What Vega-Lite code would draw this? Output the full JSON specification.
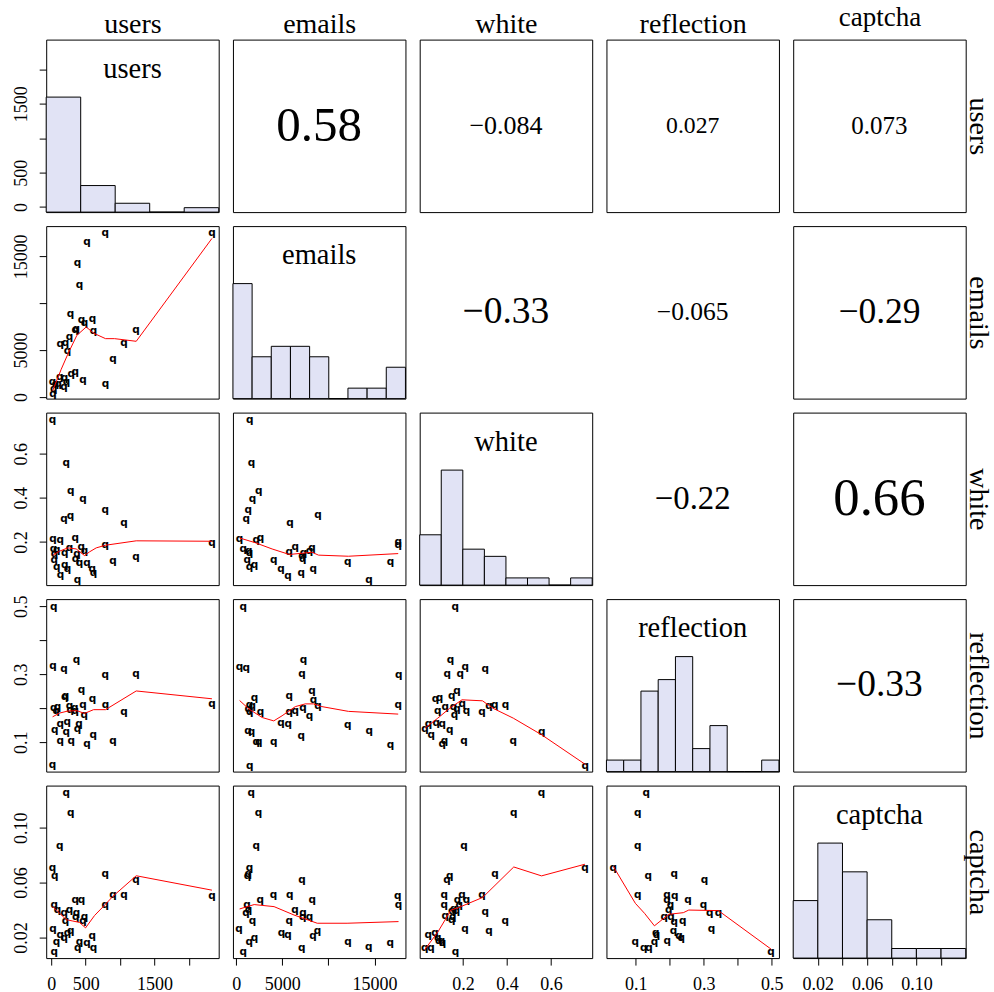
{
"$schema":"https://vega.github.io/schema/vega-lite/v6.json",
"background":"white",
"padding":{"left":11.2,"top":2.6,"right":15,"bottom":5},
"config":{
 "view":{"stroke":"black","strokeWidth":1},
 "axis":{"domain":false,"grid":false,"tickColor":"black","tickSize":7,"tickWidth":1,"labelFont":"Liberation Serif","labelFontSize":18,"labelColor":"black","labelOverlap":false,"labelFlush":false,"labelBound":false,"titleFont":"Liberation Serif","titleFontWeight":"normal","titleFontSize":28,"titleColor":"black","minExtent":0,"maxExtent":300},
 "axisBottom":{"labelBaseline":"alphabetic","labelPadding":24,"labelAngle":0,"labelAlign":"center"},
 "axisLeft":{"labelAngle":270,"labelAlign":"center","labelBaseline":"alphabetic","labelPadding":13},
 "axisTop":{"titleBaseline":"alphabetic","titlePadding":7,"ticks":false,"labels":false},
 "axisRight":{"titleAngle":90,"titleBaseline":"alphabetic","titlePadding":4,"ticks":false,"labels":false}
},
"datasets":{
 "h1":[{"lo":0,"hi":500,"count":26},{"lo":500,"hi":1000,"count":6},{"lo":1000,"hi":1500,"count":2},{"lo":1500,"hi":2000,"count":0},{"lo":2000,"hi":2500,"count":1}],
 "h2":[{"lo":0,"hi":2000,"count":11},{"lo":2000,"hi":4000,"count":4},{"lo":4000,"hi":6000,"count":5},{"lo":6000,"hi":8000,"count":5},{"lo":8000,"hi":10000,"count":4},{"lo":10000,"hi":12000,"count":0},{"lo":12000,"hi":14000,"count":1},{"lo":14000,"hi":16000,"count":1},{"lo":16000,"hi":18000,"count":3}],
 "h3":[{"lo":0,"hi":0.1,"count":7},{"lo":0.1,"hi":0.2,"count":16},{"lo":0.2,"hi":0.3,"count":5},{"lo":0.3,"hi":0.4,"count":4},{"lo":0.4,"hi":0.5,"count":1},{"lo":0.5,"hi":0.6,"count":1},{"lo":0.6,"hi":0.7,"count":0},{"lo":0.7,"hi":0.8,"count":1}],
 "h4":[{"lo":0,"hi":0.05,"count":1},{"lo":0.05,"hi":0.1,"count":1},{"lo":0.1,"hi":0.15,"count":7},{"lo":0.15,"hi":0.2,"count":8},{"lo":0.2,"hi":0.25,"count":10},{"lo":0.25,"hi":0.3,"count":2},{"lo":0.3,"hi":0.35,"count":4},{"lo":0.35,"hi":0.4,"count":0},{"lo":0.4,"hi":0.45,"count":0},{"lo":0.45,"hi":0.5,"count":1}],
 "h5":[{"lo":0,"hi":0.02,"count":6},{"lo":0.02,"hi":0.04,"count":12},{"lo":0.04,"hi":0.06,"count":9},{"lo":0.06,"hi":0.08,"count":4},{"lo":0.08,"hi":0.1,"count":1},{"lo":0.1,"hi":0.12,"count":1},{"lo":0.12,"hi":0.14,"count":1}],
 "s21":[{"users":784,"emails":17447},{"users":2335,"emails":17447},{"users":518,"emails":16559},{"users":382,"emails":14320},{"users":411,"emails":11975},{"users":281,"emails":8812},{"users":600,"emails":8315},{"users":440,"emails":8173},{"users":484,"emails":7924},{"users":363,"emails":7213},{"users":348,"emails":7142},{"users":615,"emails":7036},{"users":1230,"emails":7142},{"users":266,"emails":6361},{"users":208,"emails":5721},{"users":130,"emails":5650},{"users":1056,"emails":5792},{"users":237,"emails":4904},{"users":896,"emails":4086},{"users":348,"emails":2665},{"users":290,"emails":2487},{"users":125,"emails":2167},{"users":193,"emails":1990},{"users":460,"emails":1848},{"users":20,"emails":1564},{"users":222,"emails":1634},{"users":63,"emails":1421},{"users":101,"emails":1350},{"users":789,"emails":1386},{"users":184,"emails":1101},{"users":38,"emails":817},{"users":24,"emails":355}],
 "l21":[{"users":20,"emails":640},{"users":145,"emails":2949},{"users":251,"emails":4726},{"users":373,"emails":6574},{"users":508,"emails":7462},{"users":620,"emails":6787},{"users":789,"emails":6218},{"users":920,"emails":6218},{"users":1235,"emails":5934},{"users":2335,"emails":16914}],
 "s31":[{"users":20,"white":0.753},{"users":218,"white":0.558},{"users":285,"white":0.43},{"users":460,"white":0.394},{"users":784,"white":0.346},{"users":184,"white":0.305},{"users":281,"white":0.318},{"users":1056,"white":0.287},{"users":24,"white":0.215},{"users":130,"white":0.208},{"users":348,"white":0.218},{"users":784,"white":0.188},{"users":1230,"white":0.132},{"users":2335,"white":0.196},{"users":33,"white":0.17},{"users":82,"white":0.162},{"users":48,"white":0.143},{"users":198,"white":0.15},{"users":266,"white":0.173},{"users":436,"white":0.176},{"users":484,"white":0.161},{"users":373,"white":0.146},{"users":353,"white":0.124},{"users":411,"white":0.106},{"users":518,"white":0.106},{"users":43,"white":0.117},{"users":82,"white":0.088},{"users":198,"white":0.094},{"users":237,"white":0.079},{"users":595,"white":0.079},{"users":615,"white":0.058},{"users":896,"white":0.115},{"users":135,"white":0.049},{"users":382,"white":0.027}],
 "l31":[{"users":24,"white":0.14},{"users":121,"white":0.158},{"users":242,"white":0.173},{"users":363,"white":0.168},{"users":484,"white":0.138},{"users":557,"white":0.155},{"users":654,"white":0.173},{"users":789,"white":0.185},{"users":1235,"white":0.205},{"users":2335,"white":0.203}],
 "s41":[{"users":38,"reflection":0.498},{"users":24,"reflection":0.323},{"users":184,"reflection":0.317},{"users":368,"reflection":0.341},{"users":784,"reflection":0.298},{"users":1230,"reflection":0.3},{"users":440,"reflection":0.253},{"users":600,"reflection":0.228},{"users":198,"reflection":0.233},{"users":208,"reflection":0.236},{"users":92,"reflection":0.205},{"users":38,"reflection":0.202},{"users":72,"reflection":0.193},{"users":266,"reflection":0.208},{"users":343,"reflection":0.202},{"users":276,"reflection":0.194},{"users":348,"reflection":0.193},{"users":460,"reflection":0.21},{"users":789,"reflection":0.21},{"users":479,"reflection":0.18},{"users":1056,"reflection":0.19},{"users":53,"reflection":0.136},{"users":130,"reflection":0.154},{"users":232,"reflection":0.159},{"users":218,"reflection":0.13},{"users":402,"reflection":0.153},{"users":382,"reflection":0.139},{"users":610,"reflection":0.122},{"users":130,"reflection":0.105},{"users":290,"reflection":0.105},{"users":518,"reflection":0.096},{"users":896,"reflection":0.105},{"users":20,"reflection":0.032},{"users":2335,"reflection":0.213}],
 "l41":[{"users":20,"reflection":0.175},{"users":121,"reflection":0.186},{"users":242,"reflection":0.192},{"users":373,"reflection":0.193},{"users":484,"reflection":0.185},{"users":615,"reflection":0.196},{"users":789,"reflection":0.196},{"users":1235,"reflection":0.251},{"users":2335,"reflection":0.228}],
 "s51":[{"users":218,"captcha":0.125},{"users":285,"captcha":0.111},{"users":125,"captcha":0.087},{"users":20,"captcha":0.071},{"users":53,"captcha":0.065},{"users":784,"captcha":0.066},{"users":43,"captcha":0.044},{"users":896,"captcha":0.051},{"users":1056,"captcha":0.051},{"users":784,"captcha":0.044},{"users":348,"captcha":0.047},{"users":440,"captcha":0.047},{"users":1230,"captcha":0.062},{"users":2335,"captcha":0.05},{"users":92,"captcha":0.04},{"users":266,"captcha":0.04},{"users":189,"captcha":0.038},{"users":368,"captcha":0.038},{"users":358,"captcha":0.035},{"users":484,"captcha":0.035},{"users":208,"captcha":0.032},{"users":460,"captcha":0.032},{"users":24,"captcha":0.026},{"users":130,"captcha":0.022},{"users":189,"captcha":0.02},{"users":285,"captcha":0.025},{"users":237,"captcha":0.023},{"users":77,"captcha":0.017},{"users":411,"captcha":0.017},{"users":518,"captcha":0.016},{"users":595,"captcha":0.021},{"users":387,"captcha":0.0125},{"users":615,"captcha":0.012},{"users":43,"captcha":0.0094}],
 "l51":[{"users":20,"captcha":0.0425},{"users":96,"captcha":0.039},{"users":218,"captcha":0.033},{"users":314,"captcha":0.032},{"users":411,"captcha":0.031},{"users":499,"captcha":0.027},{"users":629,"captcha":0.036},{"users":784,"captcha":0.044},{"users":896,"captcha":0.05},{"users":1235,"captcha":0.065},{"users":2335,"captcha":0.0545}],
 "s32":[{"emails":1480,"white":0.753},{"emails":1660,"white":0.556},{"emails":2452,"white":0.43},{"emails":1768,"white":0.393},{"emails":1300,"white":0.344},{"emails":1084,"white":0.302},{"emails":8860,"white":0.32},{"emails":5836,"white":0.287},{"emails":364,"white":0.214},{"emails":2632,"white":0.218},{"emails":2164,"white":0.208},{"emails":760,"white":0.168},{"emails":1372,"white":0.158},{"emails":1444,"white":0.15},{"emails":5764,"white":0.153},{"emails":6412,"white":0.176},{"emails":7312,"white":0.15},{"emails":7132,"white":0.135},{"emails":7204,"white":0.123},{"emails":7960,"white":0.158},{"emails":8212,"white":0.173},{"emails":1192,"white":0.12},{"emails":4072,"white":0.117},{"emails":4864,"white":0.079},{"emails":12100,"white":0.108},{"emails":16744,"white":0.108},{"emails":1444,"white":0.087},{"emails":1984,"white":0.093},{"emails":5620,"white":0.044},{"emails":7060,"white":0.059},{"emails":8356,"white":0.077},{"emails":14404,"white":0.029},{"emails":17572,"white":0.199},{"emails":17572,"white":0.188}],
 "l32":[{"emails":364,"white":0.218},{"emails":2092,"white":0.196},{"emails":3892,"white":0.168},{"emails":5764,"white":0.143},{"emails":8212,"white":0.153},{"emails":8932,"white":0.14},{"emails":12172,"white":0.135},{"emails":17572,"white":0.147}],
 "s42":[{"emails":760,"reflection":0.498},{"emails":364,"reflection":0.322},{"emails":1084,"reflection":0.318},{"emails":7312,"reflection":0.342},{"emails":7132,"reflection":0.301},{"emails":17644,"reflection":0.298},{"emails":8212,"reflection":0.251},{"emails":5764,"reflection":0.235},{"emails":1984,"reflection":0.231},{"emails":1444,"reflection":0.21},{"emails":1732,"reflection":0.208},{"emails":1300,"reflection":0.198},{"emails":1480,"reflection":0.189},{"emails":2632,"reflection":0.19},{"emails":8392,"reflection":0.225},{"emails":8860,"reflection":0.207},{"emails":7240,"reflection":0.2},{"emails":5764,"reflection":0.19},{"emails":6412,"reflection":0.193},{"emails":7960,"reflection":0.178},{"emails":17572,"reflection":0.211},{"emails":1264,"reflection":0.134},{"emails":1660,"reflection":0.129},{"emails":2164,"reflection":0.101},{"emails":2452,"reflection":0.101},{"emails":4072,"reflection":0.101},{"emails":4864,"reflection":0.156},{"emails":5656,"reflection":0.153},{"emails":7060,"reflection":0.119},{"emails":12100,"reflection":0.151},{"emails":14440,"reflection":0.134},{"emails":16744,"reflection":0.092},{"emails":1480,"reflection":0.03}],
 "l42":[{"emails":364,"reflection":0.223},{"emails":1372,"reflection":0.198},{"emails":2812,"reflection":0.173},{"emails":4072,"reflection":0.163},{"emails":4972,"reflection":0.178},{"emails":6412,"reflection":0.205},{"emails":7492,"reflection":0.213},{"emails":8392,"reflection":0.213},{"emails":9292,"reflection":0.205},{"emails":12172,"reflection":0.191},{"emails":17572,"reflection":0.183}],
 "s52":[{"emails":1624,"captcha":0.125},{"emails":2416,"captcha":0.111},{"emails":2164,"captcha":0.087},{"emails":1444,"captcha":0.071},{"emails":1300,"captcha":0.066},{"emails":1228,"captcha":0.065},{"emails":7132,"captcha":0.062},{"emails":1156,"captcha":0.044},{"emails":2596,"captcha":0.047},{"emails":4036,"captcha":0.051},{"emails":5800,"captcha":0.051},{"emails":8248,"captcha":0.047},{"emails":6376,"captcha":0.04},{"emails":1048,"captcha":0.038},{"emails":1336,"captcha":0.04},{"emails":1768,"captcha":0.032},{"emails":5764,"captcha":0.032},{"emails":7240,"captcha":0.0376},{"emails":7204,"captcha":0.035},{"emails":7960,"captcha":0.035},{"emails":8824,"captcha":0.025},{"emails":4900,"captcha":0.023},{"emails":5620,"captcha":0.0217},{"emails":8320,"captcha":0.021},{"emails":292,"captcha":0.026},{"emails":1408,"captcha":0.017},{"emails":1984,"captcha":0.0195},{"emails":12136,"captcha":0.017},{"emails":14368,"captcha":0.0128},{"emails":16708,"captcha":0.016},{"emails":17536,"captcha":0.05},{"emails":17608,"captcha":0.044},{"emails":7096,"captcha":0.012},{"emails":760,"captcha":0.0094}],
 "l52":[{"emails":364,"captcha":0.0408},{"emails":1948,"captcha":0.044},{"emails":4108,"captcha":0.0425},{"emails":6268,"captcha":0.0364},{"emails":8788,"captcha":0.0304},{"emails":12028,"captcha":0.0304},{"emails":17608,"captcha":0.0316}],
 "s43":[{"white":0.165,"reflection":0.497},{"white":0.144,"reflection":0.341},{"white":0.211,"reflection":0.322},{"white":0.302,"reflection":0.317},{"white":0.129,"reflection":0.302},{"white":0.188,"reflection":0.3},{"white":0.173,"reflection":0.252},{"white":0.15,"reflection":0.236},{"white":0.076,"reflection":0.228},{"white":0.094,"reflection":0.231},{"white":0.197,"reflection":0.213},{"white":0.12,"reflection":0.205},{"white":0.158,"reflection":0.205},{"white":0.173,"reflection":0.197},{"white":0.086,"reflection":0.192},{"white":0.216,"reflection":0.192},{"white":0.287,"reflection":0.19},{"white":0.319,"reflection":0.207},{"white":0.345,"reflection":0.21},{"white":0.394,"reflection":0.21},{"white":0.162,"reflection":0.181},{"white":0.044,"reflection":0.154},{"white":0.079,"reflection":0.158},{"white":0.106,"reflection":0.153},{"white":0.0285,"reflection":0.14},{"white":0.14,"reflection":0.137},{"white":0.056,"reflection":0.122},{"white":0.205,"reflection":0.105},{"white":0.117,"reflection":0.103},{"white":0.106,"reflection":0.095},{"white":0.429,"reflection":0.105},{"white":0.558,"reflection":0.13},{"white":0.756,"reflection":0.03}],
 "l43":[{"white":0.0285,"reflection":0.142},{"white":0.086,"reflection":0.171},{"white":0.14,"reflection":0.2},{"white":0.196,"reflection":0.225},{"white":0.289,"reflection":0.222},{"white":0.337,"reflection":0.2},{"white":0.429,"reflection":0.171},{"white":0.558,"reflection":0.122},{"white":0.756,"reflection":0.035}],
 "s53":[{"white":0.557,"captcha":0.125},{"white":0.431,"captcha":0.111},{"white":0.205,"captcha":0.087},{"white":0.754,"captcha":0.071},{"white":0.346,"captcha":0.066},{"white":0.14,"captcha":0.065},{"white":0.128,"captcha":0.062},{"white":0.287,"captcha":0.051},{"white":0.115,"captcha":0.051},{"white":0.196,"captcha":0.051},{"white":0.115,"captcha":0.044},{"white":0.176,"captcha":0.047},{"white":0.184,"captcha":0.044},{"white":0.217,"captcha":0.047},{"white":0.159,"captcha":0.0405},{"white":0.171,"captcha":0.039},{"white":0.149,"captcha":0.0393},{"white":0.302,"captcha":0.0386},{"white":0.12,"captcha":0.0357},{"white":0.154,"captcha":0.035},{"white":0.149,"captcha":0.033},{"white":0.392,"captcha":0.032},{"white":0.319,"captcha":0.0248},{"white":0.21,"captcha":0.026},{"white":0.043,"captcha":0.022},{"white":0.074,"captcha":0.0235},{"white":0.086,"captcha":0.02},{"white":0.103,"captcha":0.0171},{"white":0.091,"captcha":0.0171},{"white":0.108,"captcha":0.016},{"white":0.0265,"captcha":0.0123},{"white":0.055,"captcha":0.012},{"white":0.166,"captcha":0.0094}],
 "l53":[{"white":0.0265,"captcha":0.0111},{"white":0.086,"captcha":0.0239},{"white":0.146,"captcha":0.04},{"white":0.179,"captcha":0.0417},{"white":0.29,"captcha":0.0492},{"white":0.431,"captcha":0.0714},{"white":0.557,"captcha":0.0649},{"white":0.754,"captcha":0.0734}],
 "s54":[{"reflection":0.131,"captcha":0.125},{"reflection":0.106,"captcha":0.111},{"reflection":0.106,"captcha":0.087},{"reflection":0.034,"captcha":0.071},{"reflection":0.137,"captcha":0.065},{"reflection":0.213,"captcha":0.066},{"reflection":0.302,"captcha":0.062},{"reflection":0.106,"captcha":0.051},{"reflection":0.192,"captcha":0.051},{"reflection":0.215,"captcha":0.05},{"reflection":0.192,"captcha":0.047},{"reflection":0.254,"captcha":0.047},{"reflection":0.299,"captcha":0.044},{"reflection":0.202,"captcha":0.044},{"reflection":0.197,"captcha":0.04},{"reflection":0.318,"captcha":0.038},{"reflection":0.343,"captcha":0.0376},{"reflection":0.184,"captcha":0.035},{"reflection":0.204,"captcha":0.035},{"reflection":0.213,"captcha":0.0316},{"reflection":0.238,"captcha":0.032},{"reflection":0.159,"captcha":0.023},{"reflection":0.161,"captcha":0.0217},{"reflection":0.211,"captcha":0.0248},{"reflection":0.323,"captcha":0.026},{"reflection":0.227,"captcha":0.021},{"reflection":0.234,"captcha":0.0195},{"reflection":0.099,"captcha":0.0166},{"reflection":0.193,"captcha":0.0171},{"reflection":0.155,"captcha":0.017},{"reflection":0.124,"captcha":0.012},{"reflection":0.139,"captcha":0.0123},{"reflection":0.498,"captcha":0.0094}],
 "l54":[{"reflection":0.034,"captcha":0.0719},{"reflection":0.099,"captcha":0.0449},{"reflection":0.126,"captcha":0.0376},{"reflection":0.155,"captcha":0.0285},{"reflection":0.197,"captcha":0.0369},{"reflection":0.24,"captcha":0.0381},{"reflection":0.256,"captcha":0.04},{"reflection":0.343,"captcha":0.0396},{"reflection":0.498,"captcha":0.0115}]
},
"columns":5,
"spacing":{"row":13.5,"column":13.75},
"bounds":"flush",
"concat":[
 {"width":172.5,"height":172.5,"resolve":{"scale":{"y":"independent"}},"layer":[
  {"data":{"name":"h1"},"mark":{"type":"rect","fill":"#e1e3f5","stroke":"black","strokeWidth":1},"encoding":{"x":{"field":"lo","type":"quantitative","scale":{"domain":[0,2500],"nice":false,"zero":false},"axis":{"orient":"top","title":"users","ticks":false,"labels":false}},"x2":{"field":"hi"},"y":{"field":"count","type":"quantitative","scale":{"domain":[0,39],"nice":false},"axis":null},"y2":{"datum":0}}},
  {"data":{"name":"h1"},"mark":{"type":"point","opacity":0},"encoding":{"y":{"field":"lo","type":"quantitative","scale":{"domain":[-73,2433],"nice":false,"zero":false},"axis":{"title":null,"values":[0,500,1000,1500,2000],"format":"d","labelExpr":"datum.label=='1000'||datum.label=='2000'?'':datum.label"}}}},
  {"data":{"values":[{"name":"users"}]},"mark":{"type":"text","font":"Liberation Serif","fontSize":28.5,"baseline":"alphabetic","dy":-48,"color":"black"},"encoding":{"text":{"field":"name"}}}
 ]},
 {"width":172.5,"height":172.5,"data":{"values":[{"vx":"emails","vy":"users","r":"0.58"}]},"mark":{"type":"text","font":"Liberation Serif","fontSize":49,"baseline":"middle","color":"black"},"encoding":{"text":{"field":"r"},"x":{"field":"vx","type":"nominal","axis":{"orient":"top","title":"emails","ticks":false,"labels":false}}}},
 {"width":172.5,"height":172.5,"data":{"values":[{"vx":"white","vy":"users","r":"−0.084"}]},"mark":{"type":"text","font":"Liberation Serif","fontSize":26,"baseline":"middle","color":"black"},"encoding":{"text":{"field":"r"},"x":{"field":"vx","type":"nominal","axis":{"orient":"top","title":"white","ticks":false,"labels":false}}}},
 {"width":172.5,"height":172.5,"data":{"values":[{"vx":"reflection","vy":"users","r":"0.027"}]},"mark":{"type":"text","font":"Liberation Serif","fontSize":23.7,"baseline":"middle","color":"black"},"encoding":{"text":{"field":"r"},"x":{"field":"vx","type":"nominal","axis":{"orient":"top","title":"reflection","ticks":false,"labels":false}}}},
 {"width":172.5,"height":172.5,"data":{"values":[{"vx":"captcha","vy":"users","r":"0.073"}]},"mark":{"type":"text","font":"Liberation Serif","fontSize":25,"baseline":"middle","color":"black"},"encoding":{"text":{"field":"r"},"x":{"field":"vx","type":"nominal","axis":{"orient":"top","title":"captcha","ticks":false,"labels":false,"titlePadding":14,"titleFontSize":27}},"y":{"field":"vy","type":"nominal","axis":{"orient":"right","title":"users","ticks":false,"labels":false}}}},

 {"width":172.5,"height":172.5,"layer":[
  {"data":{"name":"s21"},"mark":{"type":"text","text":"q","font":"DejaVu Sans","fontSize":10.5,"fontWeight":"bold","baseline":"middle","color":"black"},"encoding":{"x":{"field":"users","type":"quantitative","scale":{"domain":[-73,2433],"nice":false,"zero":false},"axis":null},"y":{"field":"emails","type":"quantitative","scale":{"domain":[-181,18230],"nice":false,"zero":false},"axis":{"title":null,"values":[0,5000,10000,15000],"format":"d","labelExpr":"datum.label=='10000'?'':datum.label"}}}},
  {"data":{"name":"l21"},"mark":{"type":"line","color":"red","strokeWidth":1},"encoding":{"x":{"field":"users","type":"quantitative"},"y":{"field":"emails","type":"quantitative"}}}
 ]},
 {"width":172.5,"height":172.5,"layer":[
  {"data":{"name":"h2"},"mark":{"type":"rect","fill":"#e1e3f5","stroke":"black","strokeWidth":1},"encoding":{"x":{"field":"lo","type":"quantitative","scale":{"domain":[0,18000],"nice":false,"zero":false},"axis":null},"x2":{"field":"hi"},"y":{"field":"count","type":"quantitative","scale":{"domain":[0,16.5],"nice":false},"axis":null},"y2":{"datum":0}}},
  {"data":{"values":[{"name":"emails"}]},"mark":{"type":"text","font":"Liberation Serif","fontSize":28.5,"baseline":"alphabetic","dy":-48,"color":"black"},"encoding":{"text":{"field":"name"}}}
 ]},
 {"width":172.5,"height":172.5,"data":{"values":[{"vx":"white","vy":"emails","r":"−0.33"}]},"mark":{"type":"text","font":"Liberation Serif","fontSize":37.5,"baseline":"middle","color":"black"},"encoding":{"text":{"field":"r"}}},
 {"width":172.5,"height":172.5,"data":{"values":[{"vx":"reflection","vy":"emails","r":"−0.065"}]},"mark":{"type":"text","font":"Liberation Serif","fontSize":25.5,"baseline":"middle","color":"black"},"encoding":{"text":{"field":"r"}}},
 {"width":172.5,"height":172.5,"data":{"values":[{"vx":"captcha","vy":"emails","r":"−0.29"}]},"mark":{"type":"text","font":"Liberation Serif","fontSize":35.5,"baseline":"middle","color":"black"},"encoding":{"text":{"field":"r"},"y":{"field":"vy","type":"nominal","axis":{"orient":"right","title":"emails","ticks":false,"labels":false}}}},

 {"width":172.5,"height":172.5,"layer":[
  {"data":{"name":"s31"},"mark":{"type":"text","text":"q","font":"DejaVu Sans","fontSize":10.5,"fontWeight":"bold","baseline":"middle","color":"black"},"encoding":{"x":{"field":"users","type":"quantitative","scale":{"domain":[-73,2433],"nice":false,"zero":false},"axis":null},"y":{"field":"white","type":"quantitative","scale":{"domain":[0.004,0.787],"nice":false,"zero":false},"axis":{"title":null,"values":[0.2,0.4,0.6],"format":".1f"}}}},
  {"data":{"name":"l31"},"mark":{"type":"line","color":"red","strokeWidth":1},"encoding":{"x":{"field":"users","type":"quantitative"},"y":{"field":"white","type":"quantitative"}}}
 ]},
 {"width":172.5,"height":172.5,"layer":[
  {"data":{"name":"s32"},"mark":{"type":"text","text":"q","font":"DejaVu Sans","fontSize":10.5,"fontWeight":"bold","baseline":"middle","color":"black"},"encoding":{"x":{"field":"emails","type":"quantitative","scale":{"domain":[-356,18359],"nice":false,"zero":false},"axis":null},"y":{"field":"white","type":"quantitative","scale":{"domain":[0.004,0.787],"nice":false,"zero":false},"axis":null}}},
  {"data":{"name":"l32"},"mark":{"type":"line","color":"red","strokeWidth":1},"encoding":{"x":{"field":"emails","type":"quantitative"},"y":{"field":"white","type":"quantitative"}}}
 ]},
 {"width":172.5,"height":172.5,"layer":[
  {"data":{"name":"h3"},"mark":{"type":"rect","fill":"#e1e3f5","stroke":"black","strokeWidth":1},"encoding":{"x":{"field":"lo","type":"quantitative","scale":{"domain":[0,0.8],"nice":false,"zero":false},"axis":null},"x2":{"field":"hi"},"y":{"field":"count","type":"quantitative","scale":{"domain":[0,24],"nice":false},"axis":null},"y2":{"datum":0}}},
  {"data":{"values":[{"name":"white"}]},"mark":{"type":"text","font":"Liberation Serif","fontSize":28.5,"baseline":"alphabetic","dy":-48,"color":"black"},"encoding":{"text":{"field":"name"}}}
 ]},
 {"width":172.5,"height":172.5,"data":{"values":[{"vx":"reflection","vy":"white","r":"−0.22"}]},"mark":{"type":"text","font":"Liberation Serif","fontSize":32.8,"baseline":"middle","color":"black"},"encoding":{"text":{"field":"r"}}},
 {"width":172.5,"height":172.5,"data":{"values":[{"vx":"captcha","vy":"white","r":"0.66"}]},"mark":{"type":"text","font":"Liberation Serif","fontSize":52.7,"baseline":"middle","color":"black"},"encoding":{"text":{"field":"r"},"y":{"field":"vy","type":"nominal","axis":{"orient":"right","title":"white","ticks":false,"labels":false}}}},

 {"width":172.5,"height":172.5,"layer":[
  {"data":{"name":"s41"},"mark":{"type":"text","text":"q","font":"DejaVu Sans","fontSize":10.5,"fontWeight":"bold","baseline":"middle","color":"black"},"encoding":{"x":{"field":"users","type":"quantitative","scale":{"domain":[-73,2433],"nice":false,"zero":false},"axis":null},"y":{"field":"reflection","type":"quantitative","scale":{"domain":[0.014,0.521],"nice":false,"zero":false},"axis":{"title":null,"values":[0.1,0.2,0.3,0.4,0.5],"format":".1f","labelExpr":"datum.label=='0.2'||datum.label=='0.4'?'':datum.label"}}}},
  {"data":{"name":"l41"},"mark":{"type":"line","color":"red","strokeWidth":1},"encoding":{"x":{"field":"users","type":"quantitative"},"y":{"field":"reflection","type":"quantitative"}}}
 ]},
 {"width":172.5,"height":172.5,"layer":[
  {"data":{"name":"s42"},"mark":{"type":"text","text":"q","font":"DejaVu Sans","fontSize":10.5,"fontWeight":"bold","baseline":"middle","color":"black"},"encoding":{"x":{"field":"emails","type":"quantitative","scale":{"domain":[-356,18359],"nice":false,"zero":false},"axis":null},"y":{"field":"reflection","type":"quantitative","scale":{"domain":[0.014,0.521],"nice":false,"zero":false},"axis":null}}},
  {"data":{"name":"l42"},"mark":{"type":"line","color":"red","strokeWidth":1},"encoding":{"x":{"field":"emails","type":"quantitative"},"y":{"field":"reflection","type":"quantitative"}}}
 ]},
 {"width":172.5,"height":172.5,"layer":[
  {"data":{"name":"s43"},"mark":{"type":"text","text":"q","font":"DejaVu Sans","fontSize":10.5,"fontWeight":"bold","baseline":"middle","color":"black"},"encoding":{"x":{"field":"white","type":"quantitative","scale":{"domain":[0.004,0.787],"nice":false,"zero":false},"axis":null},"y":{"field":"reflection","type":"quantitative","scale":{"domain":[0.014,0.521],"nice":false,"zero":false},"axis":null}}},
  {"data":{"name":"l43"},"mark":{"type":"line","color":"red","strokeWidth":1},"encoding":{"x":{"field":"white","type":"quantitative"},"y":{"field":"reflection","type":"quantitative"}}}
 ]},
 {"width":172.5,"height":172.5,"layer":[
  {"data":{"name":"h4"},"mark":{"type":"rect","fill":"#e1e3f5","stroke":"black","strokeWidth":1},"encoding":{"x":{"field":"lo","type":"quantitative","scale":{"domain":[0,0.5],"nice":false,"zero":false},"axis":null},"x2":{"field":"hi"},"y":{"field":"count","type":"quantitative","scale":{"domain":[0,15],"nice":false},"axis":null},"y2":{"datum":0}}},
  {"data":{"values":[{"name":"reflection"}]},"mark":{"type":"text","font":"Liberation Serif","fontSize":28.5,"baseline":"alphabetic","dy":-48,"color":"black"},"encoding":{"text":{"field":"name"}}}
 ]},
 {"width":172.5,"height":172.5,"data":{"values":[{"vx":"captcha","vy":"reflection","r":"−0.33"}]},"mark":{"type":"text","font":"Liberation Serif","fontSize":37.5,"baseline":"middle","color":"black"},"encoding":{"text":{"field":"r"},"y":{"field":"vy","type":"nominal","axis":{"orient":"right","title":"reflection","ticks":false,"labels":false}}}},

 {"width":172.5,"height":172.5,"layer":[
  {"data":{"name":"s51"},"mark":{"type":"text","text":"q","font":"DejaVu Sans","fontSize":10.5,"fontWeight":"bold","baseline":"middle","color":"black"},"encoding":{"x":{"field":"users","type":"quantitative","scale":{"domain":[-73,2433],"nice":false,"zero":false},"axis":{"title":null,"values":[0,500,1000,1500,2000],"format":"d","labelExpr":"datum.label=='1000'||datum.label=='2000'?'':datum.label"}},"y":{"field":"captcha","type":"quantitative","scale":{"domain":[0.005,0.1307],"nice":false,"zero":false},"axis":{"title":null,"values":[0.02,0.04,0.06,0.08,0.1,0.12],"format":".2f","labelExpr":"datum.label=='0.04'||datum.label=='0.08'||datum.label=='0.12'?'':datum.label"}}}},
  {"data":{"name":"l51"},"mark":{"type":"line","color":"red","strokeWidth":1},"encoding":{"x":{"field":"users","type":"quantitative"},"y":{"field":"captcha","type":"quantitative"}}}
 ]},
 {"width":172.5,"height":172.5,"layer":[
  {"data":{"name":"s52"},"mark":{"type":"text","text":"q","font":"DejaVu Sans","fontSize":10.5,"fontWeight":"bold","baseline":"middle","color":"black"},"encoding":{"x":{"field":"emails","type":"quantitative","scale":{"domain":[-356,18359],"nice":false,"zero":false},"axis":{"title":null,"values":[0,5000,10000,15000],"format":"d","labelExpr":"datum.label=='10000'?'':datum.label"}},"y":{"field":"captcha","type":"quantitative","scale":{"domain":[0.005,0.1307],"nice":false,"zero":false},"axis":null}}},
  {"data":{"name":"l52"},"mark":{"type":"line","color":"red","strokeWidth":1},"encoding":{"x":{"field":"emails","type":"quantitative"},"y":{"field":"captcha","type":"quantitative"}}}
 ]},
 {"width":172.5,"height":172.5,"layer":[
  {"data":{"name":"s53"},"mark":{"type":"text","text":"q","font":"DejaVu Sans","fontSize":10.5,"fontWeight":"bold","baseline":"middle","color":"black"},"encoding":{"x":{"field":"white","type":"quantitative","scale":{"domain":[0.004,0.787],"nice":false,"zero":false},"axis":{"title":null,"values":[0.2,0.4,0.6],"format":".1f"}},"y":{"field":"captcha","type":"quantitative","scale":{"domain":[0.005,0.1307],"nice":false,"zero":false},"axis":null}}},
  {"data":{"name":"l53"},"mark":{"type":"line","color":"red","strokeWidth":1},"encoding":{"x":{"field":"white","type":"quantitative"},"y":{"field":"captcha","type":"quantitative"}}}
 ]},
 {"width":172.5,"height":172.5,"layer":[
  {"data":{"name":"s54"},"mark":{"type":"text","text":"q","font":"DejaVu Sans","fontSize":10.5,"fontWeight":"bold","baseline":"middle","color":"black"},"encoding":{"x":{"field":"reflection","type":"quantitative","scale":{"domain":[0.014,0.521],"nice":false,"zero":false},"axis":{"title":null,"values":[0.1,0.2,0.3,0.4,0.5],"format":".1f","labelExpr":"datum.label=='0.2'||datum.label=='0.4'?'':datum.label"}},"y":{"field":"captcha","type":"quantitative","scale":{"domain":[0.005,0.1307],"nice":false,"zero":false},"axis":null}}},
  {"data":{"name":"l54"},"mark":{"type":"line","color":"red","strokeWidth":1},"encoding":{"x":{"field":"reflection","type":"quantitative"},"y":{"field":"captcha","type":"quantitative"}}}
 ]},
 {"width":172.5,"height":172.5,"layer":[
  {"data":{"name":"h5"},"mark":{"type":"rect","fill":"#e1e3f5","stroke":"black","strokeWidth":1},"encoding":{"x":{"field":"lo","type":"quantitative","scale":{"domain":[0,0.14],"nice":false,"zero":false},"axis":{"title":null,"values":[0.02,0.04,0.06,0.08,0.1,0.12],"format":".2f","labelExpr":"datum.label=='0.04'||datum.label=='0.08'||datum.label=='0.12'?'':datum.label"}},"x2":{"field":"hi"},"y":{"field":"count","type":"quantitative","scale":{"domain":[0,18],"nice":false},"axis":{"orient":"right","title":"captcha","ticks":false,"labels":false}},"y2":{"datum":0}}},
  {"data":{"values":[{"name":"captcha"}]},"mark":{"type":"text","font":"Liberation Serif","fontSize":28.5,"baseline":"alphabetic","dy":-48,"color":"black"},"encoding":{"text":{"field":"name"}}}
 ]}
]
}
